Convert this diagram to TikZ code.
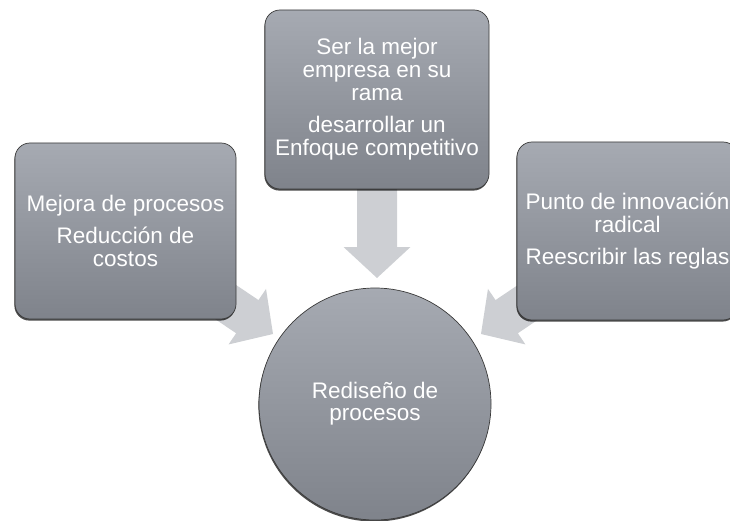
\documentclass[tikz,border=0pt]{standalone}
\usepackage{fontspec}
\setmainfont{Liberation Sans}
\usetikzlibrary{shadows}
\definecolor{boxtop}{HTML}{A6AAB2}
\definecolor{boxbot}{HTML}{7F838B}
\definecolor{arrowgray}{HTML}{CDCFD3}
\definecolor{edgegray}{HTML}{3A3A3A}
\tikzset{
  card/.style={rectangle, rounded corners=15pt, draw=edgegray, line width=0.7pt,
    top color=boxtop, bottom color=boxbot, text=white, align=center,
    font=\fontsize{22.5}{23}\selectfont, inner sep=0pt,
    drop shadow={shadow xshift=-0.6pt, shadow yshift=-1.6pt, opacity=0.7, fill=black}},
  hub/.style={circle, draw=edgegray, line width=0.7pt,
    top color=boxtop, bottom color=boxbot, text=white, align=center,
    font=\fontsize{22.5}{22}\selectfont, inner sep=0pt, minimum size=232pt,
    drop shadow={shadow xshift=-0.6pt, shadow yshift=-1.6pt, opacity=0.7, fill=black}},
  blockarrow/.style={fill=arrowgray, draw=none}
}
\newcommand{\blockarr}[2]{%
  \begin{scope}[shift={(#1)}, rotate=#2]
    \fill[blockarrow] (-130,-20) -- (-31,-20) -- (-31,-33.5) -- (0,0)
      -- (-31,33.5) -- (-31,20) -- (-130,20) -- cycle;
  \end{scope}}
\begin{document}
\begin{tikzpicture}[x=1pt,y=-1pt]
\useasboundingbox (0,0) rectangle (730,521);
\clip (0,0) rectangle (730,521);
% arrow tips
\coordinate (tipL) at (273,334);
\coordinate (tipT) at (377,278);
\coordinate (tipR) at (481,334);
\blockarr{tipL}{-34}
\blockarr{tipT}{-90}
\blockarr{tipR}{-146}
% boxes
\node[card, minimum width=221pt, minimum height=176pt] (left) at (125.5,231)
  {Mejora de procesos\\[9pt]Reducción de\\costos};
\node[card, minimum width=224pt, minimum height=179pt] (top) at (377,99.5)
  {Ser la mejor\\empresa en su\\rama\\[9pt]desarrollar un\\Enfoque competitivo};
\node[card, minimum width=221pt, minimum height=178pt] (right) at (627.5,231)
  {Punto de innovación\\radical\\[9pt]Reescribir las reglas};
\node[hub] (hub) at (375,404) {Rediseño de\\procesos};
\end{tikzpicture}
\end{document}
